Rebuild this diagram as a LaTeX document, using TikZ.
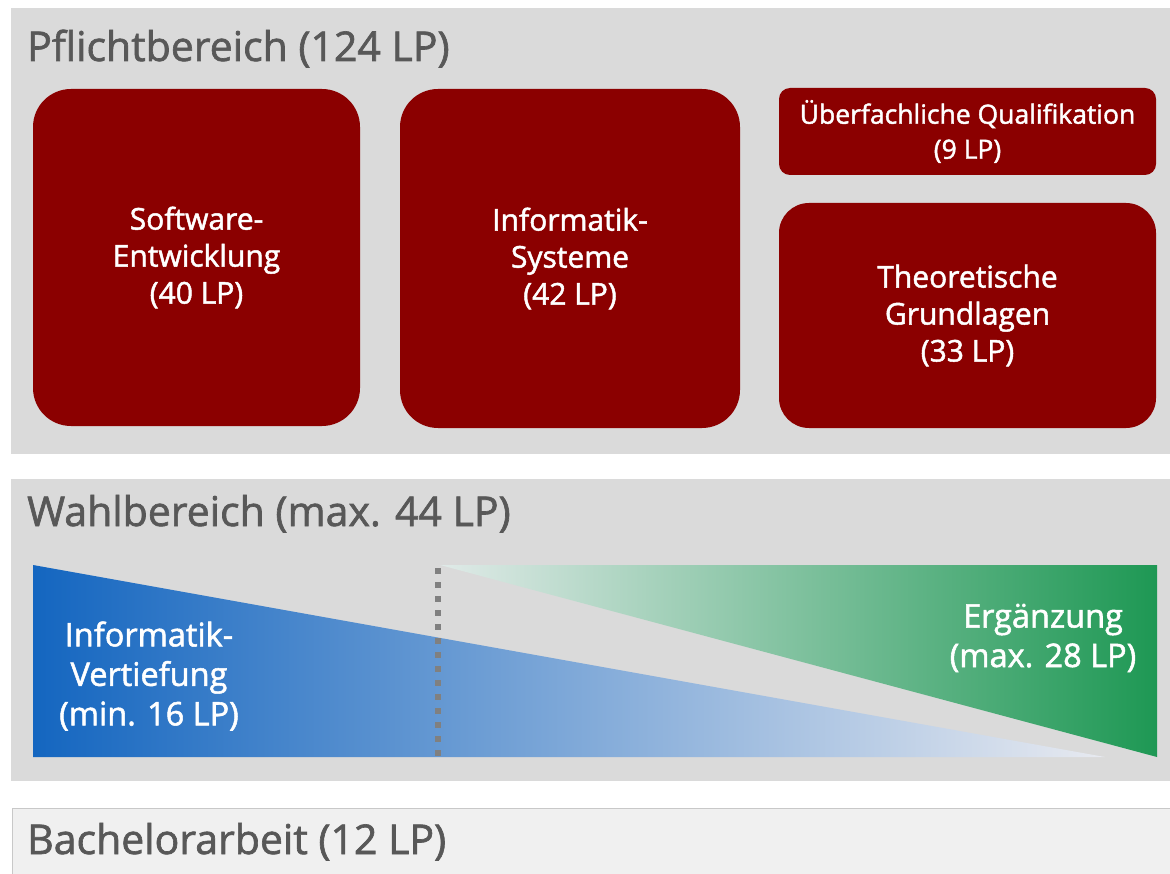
\documentclass[tikz,border=0pt]{standalone}
\usepackage{fontspec}
\setmainfont{Open Sans}[FakeBold=1.6]
\definecolor{flaeche}{RGB}{218,218,218}
\definecolor{flaecheba}{RGB}{240,240,240}
\definecolor{randba}{RGB}{200,200,200}
\definecolor{titelgrau}{RGB}{88,88,88}
\definecolor{modulrot}{RGB}{139,0,0}
\definecolor{vertblau}{RGB}{20,102,192}
\definecolor{vertblass}{RGB}{232,234,240}
\definecolor{ergruen}{RGB}{30,152,84}
\definecolor{ergblass}{RGB}{224,234,232}
\definecolor{punktgrau}{RGB}{128,128,128}

\begin{document}
\begin{tikzpicture}[x=1pt,y=-1pt]
    \tikzstyle{every node}=[font=\fontsize{30}{37}\selectfont]
    \tikzstyle{titel}=[anchor=base west, inner sep=0pt, text=titelgrau, font=\fontsize{41}{44}\selectfont]
    \tikzstyle{modul}=[fill=modulrot, text=white, align=center, inner sep=0pt, rounded corners=38pt]
    \tikzstyle{wahltext}=[text=white, align=center, inner sep=0pt, font=\fontsize{32.5}{39.5}\selectfont]
    \useasboundingbox (0,0) rectangle (1170,874);
    % the three areas
    \fill[flaeche] (11,8) rectangle (1170,454);
    \fill[flaeche] (11,479) rectangle (1170,781);
    \filldraw[fill=flaecheba, draw=randba, line width=1pt] (12,808) rectangle (1172,876);
    \node[titel] (pflicht) at (27,61) {Pflichtbereich (124 LP)};
    \node[titel] (wahl) at (27,526) {Wahlbereich (max. 44 LP)};
    \node[titel] (bachelor) at (27,854) {Bachelorarbeit (12 LP)};
    % Pflichtbereich
    \node[modul, minimum width=327pt, minimum height=337pt] (swe) at (196.5,257.5)
        {Software-\\Entwicklung\\(40 LP)};
    \node[modul, minimum width=340pt, minimum height=339pt] (infsys) at (570,258.5)
        {Informatik-\\Systeme\\(42 LP)};
    \node[modul, minimum width=377pt, minimum height=87pt, rounded corners=11pt,
        font=\fontsize{26.5}{35}\selectfont] (ueq) at (967.5,131.5)
        {Überfachliche Qualifikation\\(9 LP)};
    \node[modul, minimum width=377pt, minimum height=225pt, rounded corners=30pt] (theo) at (967.5,315.5)
        {Theoretische\\Grundlagen\\(33 LP)};
    % Wahlbereich
    \def\oben{565}
    \def\unten{757}
    \shade[left color=vertblau, right color=vertblass] (33,\oben) -- (33,\unten) -- (1105,\unten) -- cycle;
    \shade[left color=ergblass, right color=ergruen] (440,\oben) -- (1157,\oben) -- (1157,\unten) -- cycle;
    \coordinate (grenzeo) at (438,\oben);
    \coordinate (grenzeu) at (438,\unten);
    \draw[punktgrau, line width=6pt, dash pattern=on 6pt off 8pt, dash phase=-3pt] (grenzeo) -- (grenzeu);
    \node[wahltext] (vertiefung) at (149,676) {Informatik-\\Vertiefung\\(min. 16 LP)};
    \node[wahltext] (ergaenzung) at (1043,638) {Ergänzung\\(max. 28 LP)};
\end{tikzpicture}
\end{document}
